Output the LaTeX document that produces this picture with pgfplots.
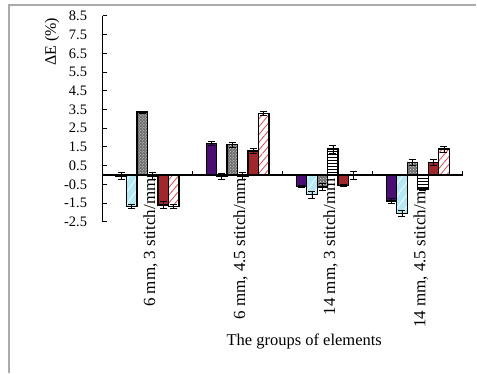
\documentclass[border=0pt]{standalone}
\usepackage{fontspec}
\setmainfont{Liberation Serif}
\usepackage{pgfplots}
\pgfplotsset{compat=1.18}
\usepackage{pgfplotstable}
\usetikzlibrary{patterns,patterns.meta,calc}

\definecolor{cPurple}{RGB}{75,14,115}
\definecolor{cCyan}{RGB}{180,232,242}
\definecolor{cGray}{RGB}{110,110,110}
\definecolor{cRed}{RGB}{160,40,42}
\definecolor{cHatch}{RGB}{215,75,75}
\definecolor{frameGray}{RGB}{170,170,170}

% x = group (1..4), y = change in E (%), e = error
\pgfplotstableread{
x y e
1 -0.05 0.20
2 1.70 0.12
3 -0.61 0.05
4 -1.40 0.12
}\serA
\pgfplotstableread{
x y e
1 -1.68 0.13
2 -0.06 0.16
3 -1.06 0.20
4 -2.05 0.15
}\serB
\pgfplotstableread{
x y e
1 3.36 0.06
2 1.63 0.13
3 -0.65 0.20
4 0.67 0.15
}\serC
\pgfplotstableread{
x y e
1 -0.06 0.20
2 -0.06 0.20
3 1.38 0.22
4 -0.75 0.08
}\serD
\pgfplotstableread{
x y e
1 -1.60 0.17
2 1.28 0.15
3 -0.58 0.05
4 0.67 0.14
}\serE
\pgfplotstableread{
x y e
1 -1.68 0.10
2 3.30 0.12
3 -0.03 0.20
4 1.38 0.17
}\serF

\begin{document}
\begin{tikzpicture}
\begin{axis}[
  ybar=0pt, bar width=10.5pt,
  scale only axis, width=360.6pt, height=206pt,
  xmin=0.5, xmax=4.5, ymin=-2.5, ymax=8.5,
  axis x line*=middle, axis y line*=left,
  axis line style={line width=1.6pt, black},
  tick style={line width=1pt, black},
  major tick length=4pt,
  ytick={-2.5,-1.5,...,8.5},
  ytick align=inside,
  xtick={0.5,1.5,2.5,3.5,4.5}, xticklabels={},
  xtick align=center,
  major x tick style={yshift=2pt},
  extra x ticks={1,2,3,4},
  extra x tick labels={{6 mm, 3 stitch/mm},{6 mm, 4.5 stitch/mm},{14 mm, 3 stitch/mm},{14 mm, 4.5 stitch/mm}},
  extra x tick style={major tick length=0pt},
  xticklabel style={rotate=90, anchor=east, font=\fontsize{17}{17}\selectfont, yshift=-3pt},
  yticklabel style={font=\fontsize{14.5}{14.5}\selectfont, xshift=-12pt},
  /pgf/number format/assume math mode=true,
  /pgf/number format/fixed, /pgf/number format/fixed zerofill,
  /pgf/number format/precision=1,
  xlabel={The groups of elements},
  ylabel={ΔE (\%)},
  every axis x label/.style={at={(rel axis cs:0.56,0)}, yshift=-120pt, anchor=center, font=\fontsize{16.5}{16.5}\selectfont},
  every axis y label/.style={at={(rel axis cs:0,0.874)}, xshift=-50.7pt, rotate=90, anchor=center, font=\fontsize{16}{16}\selectfont},
  clip=false,
  every axis plot/.append style={draw=black, line width=1.3pt},
  error bars/y dir=both, error bars/y explicit,
  error bars/error bar style={line width=0.8pt, black},
  error bars/error mark options={line width=0.8pt, black, mark size=3.5pt, rotate=90},
]
\coordinate (SW) at (rel axis cs:0,0);
\addplot[fill=cPurple, error bars/.cd, y dir=both, y explicit] table[x=x, y=y, y error=e]{\serA};
\addplot[fill=cCyan, postaction={pattern={Lines[angle=55, distance=7pt, line width=1.3pt]}, pattern color=white!60!cCyan}, error bars/.cd, y dir=both, y explicit] table[x=x, y=y, y error=e]{\serB};
\addplot[fill=cGray, postaction={pattern=crosshatch dots, pattern color=white!80!gray}, error bars/.cd, y dir=both, y explicit] table[x=x, y=y, y error=e]{\serC};
\addplot[fill=white, postaction={pattern={Lines[angle=0, distance=3pt, line width=0.9pt]}, pattern color=black}, error bars/.cd, y dir=both, y explicit] table[x=x, y=y, y error=e]{\serD};
\addplot[fill=cRed, error bars/.cd, y dir=both, y explicit] table[x=x, y=y, y error=e]{\serE};
\addplot[fill=white, postaction={pattern={Lines[angle=50, distance=5pt, line width=0.8pt]}, pattern color=cHatch}, error bars/.cd, y dir=both, y explicit] table[x=x, y=y, y error=e]{\serF};
\end{axis}
% outer frame of the chart area (top and left edges)
\draw[frameGray, line width=1.2pt] ($(SW)+(-93.7pt,-151pt)$) -- ($(SW)+(-93.7pt,217pt)$) -- ($(SW)+(374.3pt,217pt)$);
\path[use as bounding box] ($(SW)+(-102.7pt,-151pt)$) rectangle ($(SW)+(374.3pt,222pt)$);
\end{tikzpicture}
\end{document}
